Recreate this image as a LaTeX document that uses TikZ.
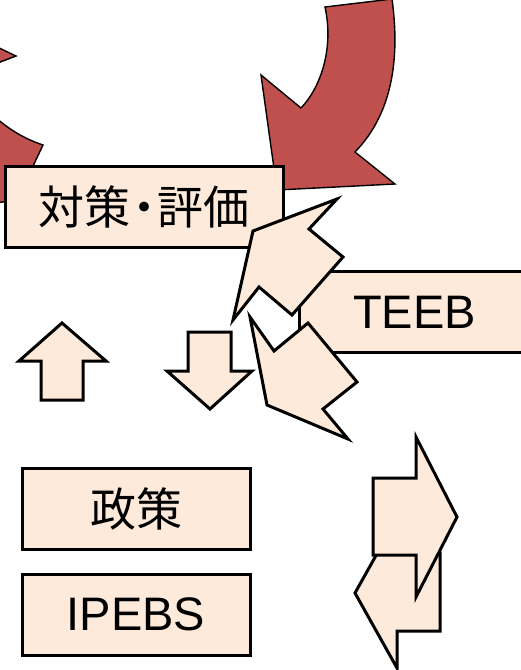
\documentclass[tikz,border=0pt]{standalone}
\usepackage{fontspec}
\setmainfont{Liberation Sans}
\newfontfamily\cjk{Noto Sans CJK JP}
\definecolor{cream}{HTML}{FDEADA}
\definecolor{brick}{HTML}{C0504D}
\tikzset{
  box/.style={draw=black, fill=cream, line width=3pt, inner sep=0pt, minimum height=81pt, font=\fontsize{47}{50}\selectfont},
  blockarrow/.style={draw=black, fill=cream, line width=3pt, line join=miter},
  redarrow/.style={draw=black, fill=brick, line width=1.4pt, line join=miter}
}
\begin{document}
\begin{tikzpicture}[x=1pt,y=-1pt]
\useasboundingbox (0,0) rectangle (521,670);
% red cycle arrows
\path[redarrow] (-5,46) -- (16,56) -- (-5,64) -- cycle;
\path[redarrow] (-5,117) .. controls (12,132) and (28,140) .. (43,145) -- (17,200) -- (-5,203) -- cycle;
\path[redarrow] (325,7) -- (392,-1) .. controls (399,50) and (396,110) .. (355,152) -- (395,184) -- (277,190) -- (261,75) -- (301,108) .. controls (321,87) and (334,48) .. (325,7) -- cycle;
% boxes
\node[box, minimum width=278pt, font=\fontsize{46}{50}\selectfont] (eval) at (144,206.5) {\cjk 対策\kern-0.2em・\kern-0.2em評価};
\node[box, minimum width=231pt] (teeb) at (414.5,312) {TEEB};
% arrows near TEEB
\path[blockarrow] (253,231) -- (337,199) -- (309,229) -- (343,257) -- (292,315) -- (259,287) -- (233,320) -- cycle;
\path[blockarrow] (250,317) -- (274,351) -- (308,323) -- (357,382) -- (323,409) -- (348,439) -- (267,405) -- cycle;
% up and down arrows
\path[blockarrow] (62,323) -- (106,361) -- (83,361) -- (83,400) -- (41,400) -- (41,361) -- (19,361) -- cycle;
\path[blockarrow] (210,409) -- (252,371) -- (231,371) -- (231,332) -- (188,332) -- (188,371) -- (167,371) -- cycle;
% lower boxes
\node[box, minimum width=228pt, font=\fontsize{46}{50}\selectfont] (policy) at (136,508.5) {\cjk 政策};
\node[box, minimum width=228pt] (ipebs) at (136,614.5) {IPEBS};
% right/left arrows
\path[blockarrow] (355,593) -- (397,518) -- (397,553) -- (440,553) -- (440,631) -- (397,631) -- (397,668) -- cycle;
\path[blockarrow] (457,517) -- (416,437) -- (416,478) -- (373,478) -- (373,555) -- (416,555) -- (416,597) -- cycle;
\end{tikzpicture}
\end{document}
